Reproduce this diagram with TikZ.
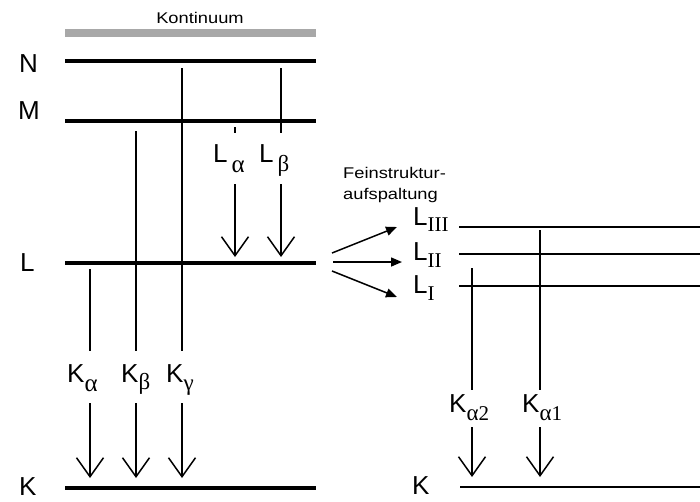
\documentclass[tikz,border=0pt]{standalone}
\usepackage{fontspec}
\setmainfont{Liberation Sans}
\newfontfamily\serifgr{Liberation Serif}
\newfontfamily\smallsans[FakeStretch=1.18]{Liberation Sans}
\usetikzlibrary{arrows.meta}
\newcommand{\subtxt}[2]{\raisebox{#1}{\serifgr\fontsize{23}{23}\selectfont #2}}
\newcommand{\subalpha}[1]{\raisebox{#1}{\serifgr\fontsize{25}{25}\selectfont α}}
\newcommand{\subrom}[2]{\raisebox{#1}{\serifgr\fontsize{21}{21}\selectfont #2}}
\begin{document}
\begin{tikzpicture}[x=1pt,y=-1pt,
  lvl/.style={line width=4pt},
  rlvl/.style={line width=2pt},
  trans/.style={line width=1.5pt},
  emit/.style={line width=1.5pt,-{Straight Barb[length=19pt,width=27pt,line width=1.5pt]}},
  split/.style={line width=1.5pt,-{Triangle[length=11pt,width=9pt]}},
  big/.style={inner sep=0pt,anchor=base west,font=\fontsize{26}{26}\selectfont},
  small/.style={inner sep=0pt,anchor=base west,font=\smallsans\fontsize{15.5}{15.5}\selectfont}]
\useasboundingbox (0,0) rectangle (700,501);
% continuum
\draw[line width=8pt,color={rgb,255:red,168;green,168;blue,168}] (65,33) -- (316,33);
\node[small,anchor=base] (kont) at (200,23) {Kontinuum};
% left levels
\draw[lvl] (65,61) -- (316,61);
\draw[lvl] (65,121) -- (316,121);
\draw[lvl] (65,263) -- (316,263);
\draw[lvl] (65,488) -- (316,488);
\node[big] (N) at (19,72) {N};
\node[big] (M) at (18,119) {M};
\node[big] (L) at (20,271) {L};
\node[big] (K) at (19,495) {K};
% coordinates
\coordinate (ga) at (182,68);  \coordinate (gb) at (182,351);
\coordinate (gc) at (182,403); \coordinate (gd) at (182,478);
\coordinate (ba) at (136,131); \coordinate (bb) at (136,351);
\coordinate (bc) at (136,403); \coordinate (bd) at (136,478);
\coordinate (aa) at (90,269);  \coordinate (ab) at (90,351);
\coordinate (ac) at (90,403);  \coordinate (ad) at (90,478);
\coordinate (la) at (235,127); \coordinate (lb) at (235,133);
\coordinate (lc) at (235,184); \coordinate (ld) at (235,257);
\coordinate (ma) at (281,68);  \coordinate (mb) at (281,133);
\coordinate (mc) at (281,184); \coordinate (md) at (281,257);
% left transitions
\draw[trans] (ga) -- (gb); \draw[emit] (gc) -- (gd);
\draw[trans] (ba) -- (bb); \draw[emit] (bc) -- (bd);
\draw[trans] (aa) -- (ab); \draw[emit] (ac) -- (ad);
\draw[trans] (la) -- (lb); \draw[emit] (lc) -- (ld);
\draw[trans] (ma) -- (mb); \draw[emit] (mc) -- (md);
\node[big] (Ka) at (67,382) {K\subalpha{-9pt}};
\node[big] (Kb) at (121,382) {K\subtxt{-7pt}{β}};
\node[big] (Kg) at (166,382) {K\subtxt{-8pt}{γ}};
\node[big] (La) at (213,162) {L\kern4pt\subalpha{-10pt}};
\node[big] (Lb) at (259,162) {L\kern4pt\subtxt{-9pt}{β}};
% fine structure
\node[small] (fs1) at (343,178) {Feinstruktur-};
\node[small] (fs2) at (343,199) {aufspaltung};
\coordinate (s1) at (332,253); \coordinate (e1) at (397,227);
\coordinate (s2) at (333,262); \coordinate (e2) at (402,262);
\coordinate (s3) at (332,271); \coordinate (e3) at (397,297);
\draw[split] (s1) -- (e1);
\draw[split] (s2) -- (e2);
\draw[split] (s3) -- (e3);
\node[big] (L3) at (413,225) {L\subrom{-6pt}{III}};
\node[big] (L2) at (413,260) {L\subrom{-7pt}{II}};
\node[big] (L1) at (413,293) {L\subrom{-7pt}{I}};
\node[big] (Kr) at (412,494) {K};
\draw[rlvl] (459,227) -- (700,227);
\draw[rlvl] (459,254) -- (700,254);
\draw[rlvl] (459,286) -- (700,286);
\draw[rlvl] (460,487) -- (700,487);
\coordinate (pa) at (472,268); \coordinate (pb) at (472,390);
\coordinate (pc) at (472,427); \coordinate (pd) at (472,477);
\coordinate (qa) at (540,230); \coordinate (qb) at (540,390);
\coordinate (qc) at (540,427); \coordinate (qd) at (540,477);
\draw[trans] (pa) -- (pb); \draw[emit] (pc) -- (pd);
\draw[trans] (qa) -- (qb); \draw[emit] (qc) -- (qd);
\node[big] (Ka2) at (449,412) {K\subrom{-8pt}{\fontsize{23}{23}\selectfont α\fontsize{21}{21}\selectfont 2}};
\node[big] (Ka1) at (522,412) {K\subrom{-8pt}{\fontsize{23}{23}\selectfont α\fontsize{21}{21}\selectfont 1}};
\end{tikzpicture}
\end{document}
